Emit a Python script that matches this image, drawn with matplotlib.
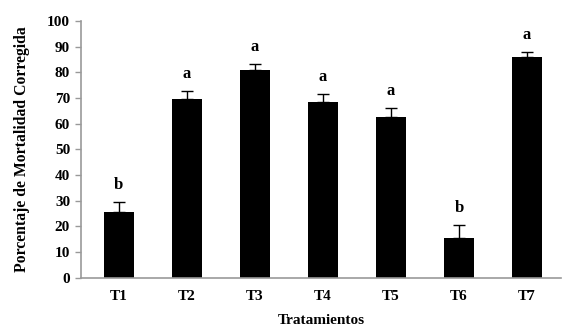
import matplotlib
matplotlib.use("Agg")
import matplotlib.pyplot as plt

categories = ["T1", "T2", "T3", "T4", "T5", "T6", "T7"]
values = [25.8, 69.6, 81.0, 68.6, 62.5, 15.4, 86.0]
errors = [3.6, 3.3, 2.3, 3.1, 3.8, 5.1, 2.1]
letters = ["b", "a", "a", "a", "a", "b", "a"]

plt.rcParams['font.family'] = ['Liberation Serif', 'DejaVu Serif']
plt.rcParams['font.weight'] = 'bold'

fig = plt.figure(figsize=(5.72, 3.36), dpi=100)
ax = fig.add_axes([0.142, 0.173, 0.839, 0.7645])

x = list(range(len(categories)))
ax.bar(x, values, width=0.44, color='black', zorder=2)
ax.errorbar(x, values, yerr=[[0]*len(errors), errors], fmt='none', ecolor='black',
            elinewidth=1.0, capsize=4, capthick=1.0, zorder=3)
for xi, v, e, l in zip(x, values, errors, letters):
    ax.text(xi, v + e + 3.5, l, ha='center', va='bottom', fontsize=12, fontweight='bold')

ax.set_xlim(-0.55, 6.5)
ax.set_ylim(0, 100)
ax.set_yticks(range(0, 101, 10))
ax.set_xticks(x)
ax.set_xticklabels(categories, fontsize=11, fontweight='bold')
ax.tick_params(axis='y', labelsize=11, colors='black', length=4, color='#999999', width=1, pad=4)
ax.tick_params(axis='x', length=0, pad=9)
for lab in ax.get_yticklabels():
    lab.set_fontweight('bold')
for s in ['top', 'right']:
    ax.spines[s].set_visible(False)
for s in ['left', 'bottom']:
    ax.spines[s].set_color('#999999')
    ax.spines[s].set_linewidth(1.2)

ax.set_ylabel("Porcentaje de Mortalidad Corregida", fontsize=11.3, fontweight='bold', labelpad=12)
ax.set_xlabel("Tratamientos", fontsize=11, fontweight='bold', labelpad=8)

fig.savefig("out.png", dpi=100)
